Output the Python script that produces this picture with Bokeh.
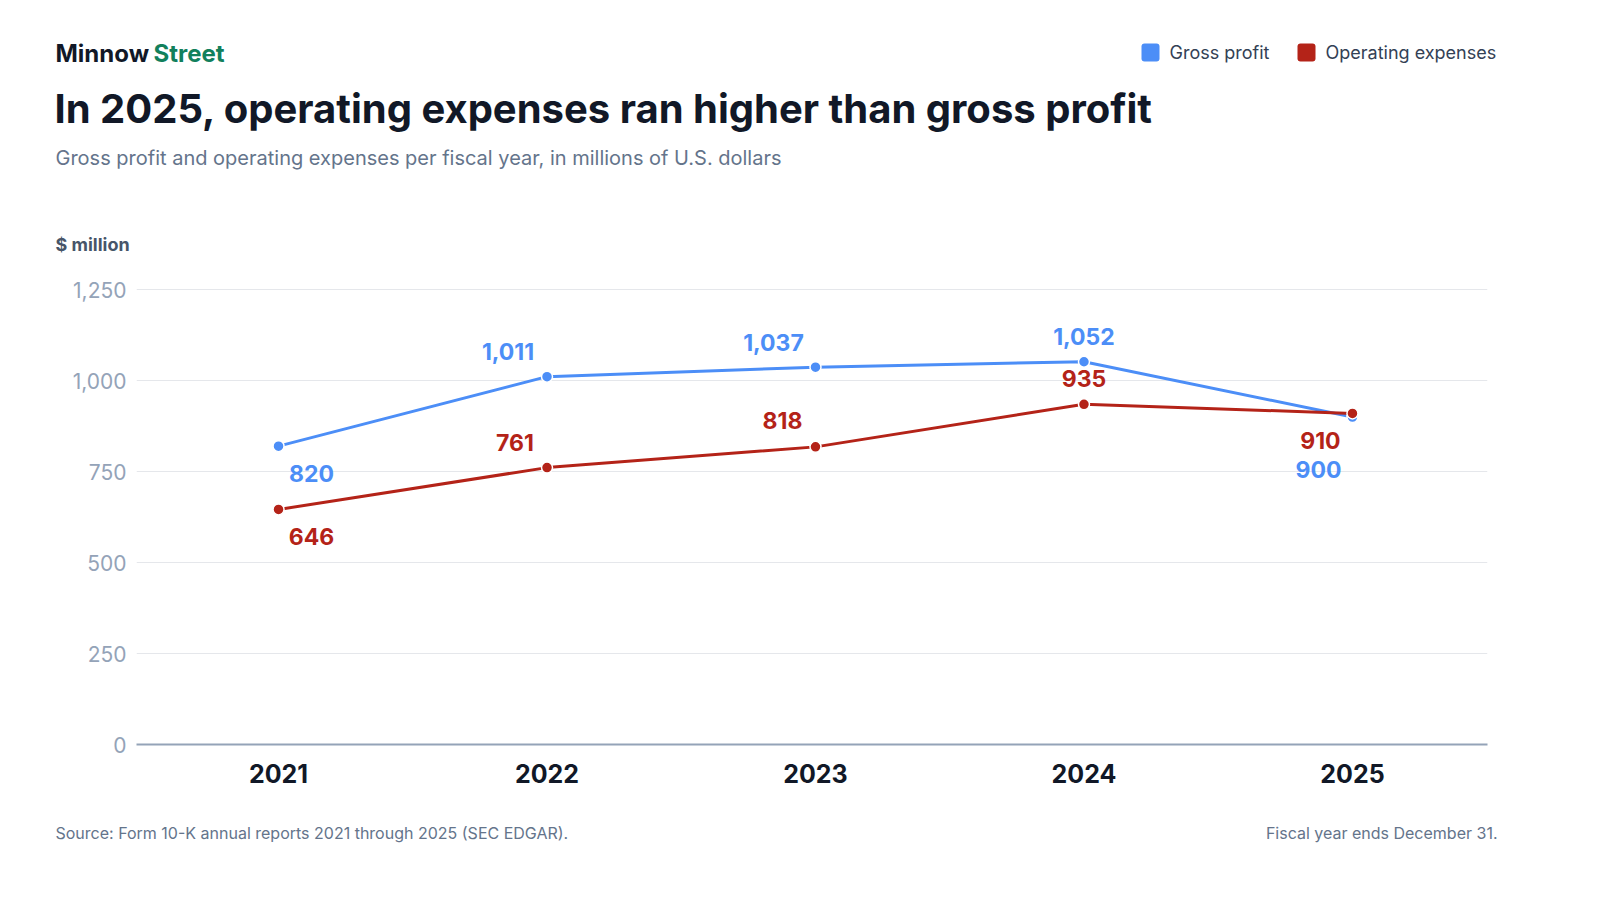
from bokeh.plotting import figure
from bokeh.models import Label, BoxAnnotation, FixedTicker, ColumnDataSource, LabelSet, Range1d
from bokeh.layouts import column
from bokeh.core.properties import value
from bokeh.embed import file_html
from bokeh.resources import INLINE

# ---------------- data ----------------
years = ["2021", "2022", "2023", "2024", "2025"]
gross_profit = [820, 1011, 1037, 1052, 900]
operating_expenses = [646, 761, 818, 935, 910]
y_ticks = [0, 250, 500, 750, 1000, 1250]
series_names = ["Gross profit", "Operating expenses"]

# label offsets (screen px, style only)
gp_dx = [33, -39, -42, 0, -34]
gp_dy = [-27, 25, 25, 25, -52]
oe_dx = [33, -32, -33, 0, -32]
oe_dy = [-27, 25, 26, 26, -27]

BLUE = "#4C8EF7"
RED = "#B42318"
FONT = "Inter"

W = 1580
FL, FR, FT, FB = 144, 1495, 279, 752  # frame edges in page px
X0, X1 = -0.529, 4.503
YMAX = 1300
HEAD_H = FT - 8          # header figure: page y 8 .. 279
MAIN_BOTTOM = 810        # main figure: page y 279 .. 810
FOOT_H = 78              # footer figure: page y 810 .. 888


def blank(height):
    f = figure(width=W, height=height, output_backend="svg", toolbar_location=None,
               x_axis_type=None, y_axis_type=None,
               x_range=Range1d(0, W), y_range=Range1d(height, 0),
               min_border=0, frame_align=False)
    f.outline_line_color = None
    f.xgrid.grid_line_color = None
    f.ygrid.grid_line_color = None
    f.background_fill_color = "white"
    f.border_fill_color = "white"
    return f


def label(f, top, px, py, text, size, color, style="normal", align="left"):
    f.add_layout(Label(x=px - 8, y=py - top, text=text, text_font=FONT,
                       text_font_size=size, text_color=color,
                       text_font_style=style, text_align=align,
                       text_baseline="middle"))


# ---------------- header ----------------
head = blank(HEAD_H)
label(head, 8, 63, 61, "Minnow", "24px", "#111827", "bold")
label(head, 8, 161, 61, "Street", "24px", "#12805C", "bold")
label(head, 8, 62, 116, "In 2025, operating expenses ran higher than gross profit",
      "40px", "#111827", "bold")
label(head, 8, 63, 165, "Gross profit and operating expenses per fiscal year, in millions of U.S. dollars",
      "20px", "#64748B")
label(head, 8, 63, 252, "$ million", "18px", "#475569", "bold")
for (bx, col, txt) in ((1149, BLUE, series_names[0]), (1305, RED, series_names[1])):
    head.add_layout(BoxAnnotation(left=bx - 8, right=bx + 10, top=51 - 8, bottom=69 - 8,
                                  fill_color=col, fill_alpha=1,
                                  line_color=None, border_radius=3))
    label(head, 8, bx + 28, 60, txt, "18px", "#334155")

# ---------------- main chart ----------------
MH = MAIN_BOTTOM - FT
p = figure(width=W, height=MH, output_backend="svg", toolbar_location=None,
           x_range=(X0, X1), y_range=(0, YMAX),
           min_border_left=FL - 8, min_border_right=W + 8 - FR,
           min_border_top=0, min_border_bottom=MAIN_BOTTOM - FB,
           frame_align=False)
p.outline_line_color = None
p.background_fill_color = "white"
p.border_fill_color = "white"

xs = list(range(len(years)))
p.xaxis.ticker = FixedTicker(ticks=xs)
p.xaxis.major_label_overrides = {i: y for i, y in enumerate(years)}
p.xaxis.axis_line_color = "#94A3B8"
p.xaxis.axis_line_width = 2
p.xaxis.major_tick_line_color = None
p.xaxis.minor_tick_line_color = None
p.xaxis.major_tick_out = 0
p.xaxis.major_tick_in = 0
p.xaxis.minor_tick_out = 0
p.xaxis.major_label_text_font = FONT
p.xaxis.major_label_text_font_size = "25px"
p.xaxis.major_label_text_font_style = "bold"
p.xaxis.major_label_text_color = "#111827"
p.xaxis.major_label_standoff = 19

p.yaxis.ticker = FixedTicker(ticks=y_ticks)
p.yaxis.major_label_overrides = {t: f"{t:,}" for t in y_ticks}
p.yaxis.axis_line_color = None
p.yaxis.major_tick_line_color = None
p.yaxis.minor_tick_line_color = None
p.yaxis.major_tick_out = 0
p.yaxis.major_tick_in = 0
p.yaxis.minor_tick_out = 0
p.yaxis.major_label_text_font = FONT
p.yaxis.major_label_text_font_size = "21px"
p.yaxis.major_label_text_color = "#94A3B8"
p.yaxis.major_label_standoff = 10

p.xgrid.grid_line_color = None
p.ygrid.grid_line_color = "#E5E7EB"
p.ygrid.grid_line_width = 1

src_gp = ColumnDataSource(dict(x=xs, y=gross_profit,
                               t=[f"{v:,}" for v in gross_profit],
                               ox=gp_dx, oy=gp_dy))
src_oe = ColumnDataSource(dict(x=xs, y=operating_expenses,
                               t=[f"{v:,}" for v in operating_expenses],
                               ox=oe_dx, oy=oe_dy))

p.line("x", "y", source=src_gp, line_color=BLUE, line_width=3)
p.scatter("x", "y", source=src_gp, size=11, fill_color=BLUE,
          line_color="white", line_width=1.5)
p.line("x", "y", source=src_oe, line_color=RED, line_width=3)
p.scatter("x", "y", source=src_oe, size=11, fill_color=RED,
          line_color="white", line_width=1.5)

for src, col in ((src_gp, BLUE), (src_oe, RED)):
    p.add_layout(LabelSet(x="x", y="y", text="t", source=src,
                          x_offset="ox", y_offset="oy",
                          text_font=value(FONT), text_font_size="23px",
                          text_font_style="bold", text_color=col,
                          text_align="center", text_baseline="middle"))

# ---------------- footer ----------------
foot = blank(FOOT_H)
label(foot, MAIN_BOTTOM, 63, 840, "Source: Form 10-K annual reports 2021 through 2025 (SEC EDGAR).",
      "16px", "#64748B")
label(foot, MAIN_BOTTOM, 1505, 840, "Fiscal year ends December 31.", "16px", "#64748B", align="right")

layout = column(head, p, foot, spacing=0)
open("out.html", "w").write(file_html(layout, INLINE))
